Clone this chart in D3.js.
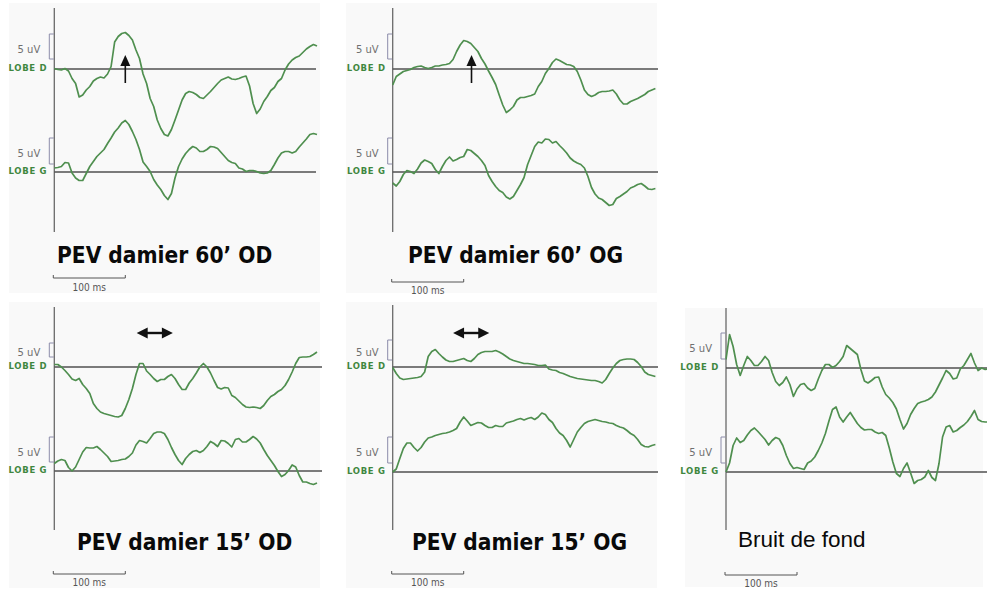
<!DOCTYPE html>
<html><head><meta charset="utf-8">
<script src="https://cdn.jsdelivr.net/npm/d3@7"></script>
<style>
html,body{margin:0;padding:0;background:#fff;}
svg{display:block;}
</style></head>
<body>
<svg id="chart" width="987" height="591"></svg>
<script>
// ---- DATA ----
const timeMs = [0,5,10,15,20,25,30,35,40,45,50,55,60,65,70,75,80,85,90,95,100,105,110,115,120,125,130,135,140,145,150,155,160,165,170,175,180,185,190,195,200,205,210,215,220,225,230,235,240,245,250,255,260,265,270,275,280,285,290,295,300,305,310,315,320,325,330,335,340,345,350,355,360,365,370];
const panelTitles = ["PEV damier 60’ OD","PEV damier 60’ OG","PEV damier 15’ OD","PEV damier 15’ OG","Bruit de fond"];
const channelLabels = ["LOBE D","LOBE G"];
const gainLabel = "5 uV";
const timeBarLabel = "100 ms";
const timeBarMs = 100;
// amplitudes in µV (one value per timeMs)
const p1LobeD = [0.1,-0.1,-0.2,0.1,-0.4, -1.9,-2.9,-5.6,-5.2,-4.2, -3.5,-2.4,-1.9,-1.6,-1.8, -1.0,0.5,5.4,6.5,7.1, 7.3,6.7,5.8,3.8,2.1, -1.0,-2.9,-5.9,-7.5,-10.2, -11.9,-13.1,-13.4,-12.1,-10.2, -8.2,-6.2,-4.9,-4.5,-4.7, -5.1,-5.7,-5.9,-5.2,-4.5, -3.7,-2.9,-2.2,-1.9,-1.6, -2.0,-2.1,-1.9,-1.6,-1.4, -3.4,-6.9,-8.9,-8.0,-6.5, -5.5,-4.3,-3.7,-2.5,-1.9, -0.2,1.0,1.8,2.3,2.6, 3.3,4.0,4.5,4.9,4.6];
const p1LobeG = [0.8,0.9,1.1,1.9,1.8, -0.2,-1.2,-1.7,-1.7,-0.3, 1.1,2.1,3.1,3.8,4.5, 5.7,6.8,8.0,8.8,9.8, 10.3,9.5,8.1,6.5,4.5, 2.0,1.1,0.1,-1.5,-2.6, -3.5,-4.7,-5.5,-4.3,-1.2, 1.1,2.6,3.7,4.5,5.1, 4.8,4.1,4.1,4.5,5.1, 5.0,4.7,3.9,3.1,2.3, 1.9,1.7,0.8,0.6,0.1, 0.3,0.3,0.1,-0.2,-0.3, -0.2,0.3,1.5,2.8,3.8, 4.1,4.1,3.8,4.1,5.0, 5.8,6.6,7.5,7.7,7.5];
const p2LobeD = [-3.2,-1.5,-1.0,-0.5,-0.3, -0.1,0.3,0.5,0.6,0.3, 0.1,0.3,0.6,0.6,0.8, 0.9,1.1,1.9,3.5,4.8, 5.7,5.5,5.1,4.3,3.5, 2.1,1.0,-0.4,-1.7,-3.1, -5.2,-7.2,-8.7,-8.2,-7.5, -6.2,-5.7,-5.7,-5.5,-5.3, -5.0,-3.5,-2.5,-0.9,0.1, 1.3,2.0,1.7,1.3,0.9, 0.8,0.5,-0.5,-2.2,-4.2, -5.1,-5.5,-5.2,-4.7,-4.5, -4.5,-4.4,-4.2,-5.0,-6.2, -7.0,-7.0,-6.5,-6.2,-5.9, -5.5,-5.1,-4.5,-4.2,-3.9];
const p2LobeG = [-2.2,-2.8,-1.9,-0.5,0.3, 0.1,-0.3,0.6,1.8,2.4, 2.1,1.7,0.5,-0.3,1.1, 2.3,3.0,2.2,2.5,2.9, 3.1,4.5,4.3,3.7,3.1, 2.3,1.3,-0.7,-1.9,-2.9, -3.7,-4.1,-5.0,-5.4,-4.9, -3.7,-2.5,-1.1,1.5,3.3, 5.1,6.0,5.8,6.6,6.5, 5.8,6.1,5.3,4.6,3.8, 2.8,2.2,1.8,1.5,0.8, -0.9,-3.1,-4.4,-5.2,-5.5, -6.1,-6.7,-6.5,-5.3,-4.9, -4.4,-3.9,-3.2,-2.9,-2.5, -2.3,-2.8,-3.4,-3.5,-3.3];
const p3LobeD = [0.5,0.5,0,-0.7,-1.5, -2.4,-2.7,-2.3,-3.5,-4.3, -5.3,-7.3,-8.3,-9.0,-9.3, -9.5,-9.7,-9.9,-10.0,-9.7, -8.3,-6.5,-4.3,-1.5,0.7, 0.7,-0.8,-1.5,-2.3,-2.9, -2.5,-2.5,-1.9,-1.5,-2.3, -3.5,-4.5,-4.5,-3.2,-2.3, -1.2,0,0.7,0,-1.2, -2.7,-4.1,-4.4,-4.1,-4.2, -5.7,-6.1,-6.8,-7.5,-8.0, -8.1,-8.0,-8.1,-8.3,-7.7, -6.7,-5.9,-5.5,-4.9,-4.5, -3.7,-2.5,-1.0,0.7,1.9, 2.0,2.0,2.1,2.5,3.0];
const p3LobeG = [1.5,2.0,2.3,2.1,0.7, 0,0.8,2.3,3.8,4.7, 4.6,4.6,4.9,4.3,3.6, 2.9,1.9,2.0,2.1,2.3, 2.4,2.9,3.6,5.2,6.1, 5.9,5.6,6.5,7.5,7.8, 7.8,7.5,6.3,4.7,3.3, 2.1,1.3,2.5,3.3,3.9, 4.1,3.7,4.1,4.9,5.9, 5.5,4.9,6.1,6.0,5.5, 4.8,6.3,6.5,5.8,5.8, 6.3,6.9,6.4,5.6,4.3, 3.1,2.1,1.1,-0.1,-1.1, -0.7,0.1,1.2,0.8,-0.9, -2.2,-2.2,-2.5,-2.7,-2.4];
const p4LobeD = [-0.1,-1.3,-2.2,-2.5,-2.4, -2.3,-2.2,-2.1,-1.9,-1.0, 2.1,3.1,3.5,2.7,2.0, 1.4,1.1,1.1,1.3,1.5, 1.7,1.3,1.1,1.7,2.5, 2.9,3.1,3.1,3.1,3.3, 3.0,2.6,2.1,1.6,1.3, 1.1,0.9,0.7,0.7,0.6, 0.5,0.3,0.3,0.4,-0.4, -0.6,-0.7,-1.1,-1.3,-1.6, -1.9,-2.1,-2.3,-2.4,-2.5, -2.6,-2.7,-2.7,-2.9,-3.2, -2.5,-1.3,-0.2,0.7,1.3, 1.5,1.6,1.6,1.5,0.9, 0.1,-1.0,-1.5,-1.7,-1.9];
const p4LobeG = [0,0.6,2.7,4.7,5.8, 5.8,4.9,4.2,4.9,6.0, 6.8,7.0,7.3,7.5,7.7, 7.8,8.0,8.3,8.7,10.0, 11.0,10.2,9.3,9.6,9.9, 9.8,9.3,8.9,8.9,9.3, 9.1,9.1,9.8,10.0,10.2, 10.5,10.7,10.4,10.7,10.9, 10.5,11.0,11.8,11.5,10.5, 9.9,8.7,7.8,7.3,6.3, 5.0,6.5,8.0,8.9,9.7, 10.1,10.3,10.5,10.3,10.1, 10.0,9.8,9.7,9.3,9.0, 8.8,8.3,7.7,7.3,6.5, 5.5,5.1,5.0,5.3,5.5];
const p5LobeD = [1.7,6.7,4.3,0.7,-1.5, 0.5,2.3,1.5,0.5,0.5, 1.3,2.3,1.5,-0.9,-2.7, -3.5,-2.9,-1.8,-3.3,-5.7, -4.2,-3.3,-3.1,-4.0,-4.5, -4.1,-2.2,-0.5,0.7,0.7, 0.1,0.5,1.3,2.3,4.5, 3.9,3.3,2.7,-0.3,-2.6, -3.0,-2.5,-1.9,-1.8,-3.8, -5.3,-6.0,-6.9,-8.2,-10.3, -12.2,-11.1,-9.3,-8.1,-7.1, -6.8,-6.6,-6.3,-5.8,-4.8, -3.4,-2.0,-0.5,-1.1,-2.2, -2.0,-0.2,0.5,1.7,2.9, 1.0,-0.5,0,-0.3,-0.2];
const p5LobeG = [0,1.8,5.3,6.8,5.9, 6.3,7.4,8.3,8.8,8.1, 7.3,6.5,5.4,6.3,6.9, 6.6,5.3,3.3,1.7,0.7, 0.9,0.7,0.5,1.8,2.2, 3.0,4.3,5.8,7.7,10.2, 12.5,13.0,11.0,10.0,11.0, 11.9,10.8,9.7,8.9,8.4, 8.5,8.5,8.0,7.7,7.9, 7.3,4.8,2.0,-0.3,-0.9, 0.7,1.8,-0.2,-2.3,-1.7, -1.5,-1.0,0.3,-1.1,-1.7, 1.7,7.0,9.0,9.3,8.0, 8.3,8.9,9.4,10.1,11.1, 12.3,10.5,10.1,10.0,10.0];
// annotation markers (ms)
const upArrowMs = [100, 111];                  // panels 1 and 2
const latencyRangeMs = [[116,167],[85,136]];   // panels 3 and 4

// ---- LAYOUT ----
const panels = [
 {bg:[9,3,311,290], ax:54.3, axTop:8, axBot:232, baseD:69, baseG:172, lineEnd:316, tx:57, ty:263, bold:true, barY:278, barTY:291, brD:[34,59], brG:[138,164], d:p1LobeD, g:p1LobeG, up:upArrowMs[0], upTip:55, upTail:83},
 {bg:[346,3,311,290], ax:392.7, axTop:8, axBot:232, baseD:69, baseG:172, lineEnd:658, tx:408, ty:263, bold:true, barY:282, barTY:294, brD:[34,59], brG:[138,164], d:p2LobeD, g:p2LobeG, up:upArrowMs[1], upTip:55, upTail:83},
 {bg:[9,302,311,286], ax:54.3, axTop:307, axBot:530, baseD:367, baseG:471, lineEnd:322, tx:77, ty:550, bold:true, barY:574, barTY:586, brD:[343,357], brG:[437,462], d:p3LobeD, g:p3LobeG, range:latencyRangeMs[0], rangeY:333},
 {bg:[346,302,311,286], ax:392.7, axTop:305, axBot:530, baseD:367, baseG:472, lineEnd:658, tx:412, ty:550, bold:true, barY:574, barTY:586, brD:[340,360], brG:[437,463], d:p4LobeD, g:p4LobeG, range:latencyRangeMs[1], rangeY:333},
 {bg:[685,308,298,279], ax:726, axTop:308, axBot:530, baseD:368, baseG:472, lineEnd:987, tx:738, ty:547, bold:false, barY:575, barTY:587, brD:[333,359], brG:[437,463], d:p5LobeD, g:p5LobeG}
];

const svg = d3.select("#chart");
const traceColor = "#4f8f4f";
const labelGreen = "#3f873f";

panels.forEach((p, i) => {
  const g = svg.append("g");
  g.append("rect").attr("x", p.bg[0]).attr("y", p.bg[1]).attr("width", p.bg[2]).attr("height", p.bg[3])
    .attr("fill", "#f9f9f9");

  const x = d3.scaleLinear().domain([0, 100]).range([p.ax, p.ax + 71]);

  // vertical axis
  g.append("line").attr("x1", p.ax).attr("x2", p.ax).attr("y1", p.axTop).attr("y2", p.axBot)
    .attr("stroke", "#6a6a6a").attr("stroke-width", 1.3);

  [[p.baseD, p.d, p.brD, channelLabels[0]], [p.baseG, p.g, p.brG, channelLabels[1]]].forEach(([base, vals, br, lab]) => {
    const y = d3.scaleLinear().domain([0, 1]).range([base, base - 5]);
    g.append("line").attr("x1", p.ax).attr("x2", p.lineEnd).attr("y1", base).attr("y2", base)
      .attr("stroke", "#505050").attr("stroke-width", 1.5);
    const line = d3.line().x((d, k) => x(timeMs[k])).y(d => y(d)).curve(d3.curveLinear);
    g.append("path").datum(vals).attr("d", line).attr("fill", "none")
      .attr("stroke", traceColor).attr("stroke-width", 1.7).attr("stroke-linejoin", "round");
    g.append("path").attr("d", `M${p.ax - 0.5},${br[0]} H${p.ax - 5} V${br[1]} H${p.ax - 0.5}`)
      .attr("fill", "none").attr("stroke", "#8c8caa").attr("stroke-width", 1);
    g.append("text").attr("x", p.ax - 14).attr("y", (br[0] + br[1]) / 2 + 6)
      .attr("text-anchor", "end").attr("font-family", "DejaVu Sans, Verdana, sans-serif")
      .attr("font-size", 10).attr("fill", "#707070").text(gainLabel);
    g.append("text").attr("x", p.ax - 7).attr("y", base + 2)
      .attr("text-anchor", "end").attr("font-family", "DejaVu Sans, Verdana, sans-serif")
      .attr("font-weight", "bold").attr("font-size", 8.5).attr("letter-spacing", 0.7)
      .attr("fill", labelGreen).text(lab);
  });

  g.append("text").attr("x", p.tx).attr("y", p.ty)
    .attr("font-family", p.bold ? "DejaVu Sans Condensed, Tahoma, sans-serif" : "Liberation Sans, Tahoma, sans-serif")
    .attr("font-weight", p.bold ? "bold" : "normal")
    .attr("font-size", 22.5).attr("fill", "#0a0a0a").text(panelTitles[i]);

  const x0 = x(0) - 1, x1 = x(timeBarMs);
  g.append("path").attr("d", `M${x0},${p.barY - 3} V${p.barY} H${x1} V${p.barY - 3}`)
    .attr("fill", "none").attr("stroke", "#555").attr("stroke-width", 1);
  g.append("text").attr("x", (x0 + x1) / 2).attr("y", p.barTY).attr("text-anchor", "middle")
    .attr("font-family", "DejaVu Sans Condensed, Tahoma, sans-serif").attr("font-size", 10)
    .attr("fill", "#555").text(timeBarLabel);

  if (p.up !== undefined) {
    const ax = x(p.up);
    g.append("line").attr("x1", ax).attr("x2", ax).attr("y1", p.upTail).attr("y2", p.upTip + 9)
      .attr("stroke", "#111").attr("stroke-width", 1.6);
    g.append("path").attr("d", `M${ax},${p.upTip} L${ax - 5},${p.upTip + 11} L${ax + 5},${p.upTip + 11} Z`)
      .attr("fill", "#111");
  }
  if (p.range) {
    const a = x(p.range[0]), b = x(p.range[1]), yy = p.rangeY;
    g.append("line").attr("x1", a + 8).attr("x2", b - 8).attr("y1", yy).attr("y2", yy)
      .attr("stroke", "#111").attr("stroke-width", 2.4);
    g.append("path").attr("d", `M${a},${yy} L${a + 11},${yy - 5.5} L${a + 11},${yy + 5.5} Z`).attr("fill", "#111");
    g.append("path").attr("d", `M${b},${yy} L${b - 11},${yy - 5.5} L${b - 11},${yy + 5.5} Z`).attr("fill", "#111");
  }
});
</script>
</body></html>
